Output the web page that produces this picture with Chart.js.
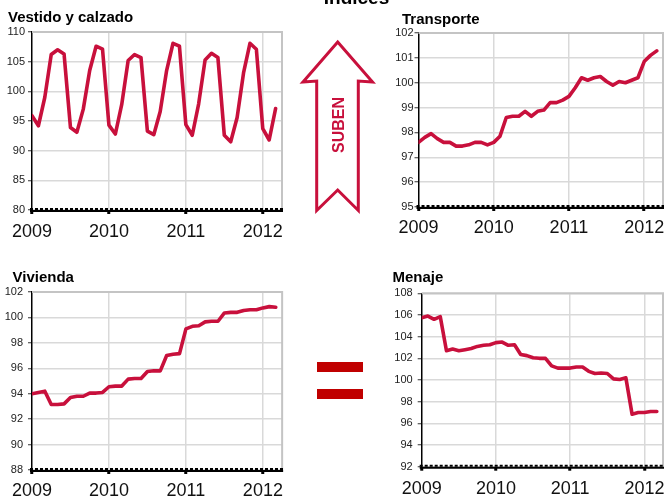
<!DOCTYPE html>
<html><head><meta charset="utf-8">
<script src="https://cdn.jsdelivr.net/npm/chart.js@4.4.1/dist/chart.umd.min.js"></script>
<style>
html,body{margin:0;padding:0;background:#fff;}
body{width:666px;height:502px;position:relative;overflow:hidden;font-family:"Liberation Sans",Arial,sans-serif;}
.p{position:absolute;}
.p canvas{display:block;}
svg{position:absolute;left:0;top:0;pointer-events:none;}
</style></head><body>
<div class="p" style="left:0;top:0"><canvas id="c1" width="290" height="245"></canvas></div>
<div class="p" style="left:392px;top:0"><canvas id="c2" width="284" height="245"></canvas></div>
<div class="p" style="left:0;top:250px"><canvas id="c3" width="290" height="252"></canvas></div>
<div class="p" style="left:384px;top:250px"><canvas id="c4" width="292" height="252"></canvas></div>
<svg width="666" height="502" font-family="Liberation Sans, Arial, sans-serif">
  <text x="356.5" y="3.5" text-anchor="middle" font-weight="bold" font-size="19" fill="#000">Índices</text>
  <text id="t1" x="8" y="22" font-weight="bold" font-size="15" fill="#000"></text>
  <text id="t2" x="402" y="23.5" font-weight="bold" font-size="15" fill="#000"></text>
  <text id="t3" x="12.5" y="282" font-weight="bold" font-size="15" fill="#000"></text>
  <text id="t4" x="392.5" y="282" font-weight="bold" font-size="15" fill="#000"></text>
  <polygon points="337.7,42 372.5,82 358.3,81 358.3,210.5 337.7,190 316.7,210.5 316.7,81 303,82" fill="#fff" stroke="#C8103C" stroke-width="3" stroke-linejoin="miter"/>
  <text transform="translate(343.5,125) rotate(-90)" text-anchor="middle" font-weight="bold" font-size="16" fill="#C8103C">SUBEN</text>
  <rect x="317" y="362" width="46" height="10" fill="#C00000"/>
  <rect x="317" y="389" width="46" height="10" fill="#C00000"/>
</svg>
<script>
const years = ['2009','2010','2011','2012'];
const titles = ['Vestido y calzado','Transporte','Vivienda','Menaje'];
const vestido = [95.9,94.2,99.0,106.2,107.0,106.3,93.9,93.1,97.0,103.5,107.6,107.1,
  94.3,92.8,97.8,105.2,106.2,105.7,93.3,92.7,96.6,103.5,108.1,107.6,
  94.4,92.6,97.9,105.3,106.4,105.7,92.6,91.5,95.6,103.1,108.1,107.1,
  93.7,91.8,97.1];
const transporte = [97.6,97.8,97.95,97.75,97.6,97.6,97.45,97.45,97.5,97.6,97.6,97.5,
  97.6,97.85,98.6,98.65,98.65,98.85,98.65,98.85,98.9,99.2,99.2,99.3,
  99.45,99.8,100.2,100.1,100.2,100.25,100.05,99.9,100.05,100.0,100.1,100.2,
  100.85,101.1,101.28];
const vivienda = [94.0,94.1,94.2,93.15,93.15,93.2,93.7,93.8,93.8,94.05,94.05,94.1,
  94.55,94.6,94.6,95.15,95.2,95.2,95.75,95.8,95.8,97.0,97.1,97.15,
  99.1,99.3,99.35,99.65,99.7,99.7,100.35,100.4,100.4,100.55,100.6,100.6,
  100.75,100.85,100.8];
const menaje = [105.75,105.9,105.6,105.85,102.7,102.85,102.7,102.8,102.9,103.1,103.2,103.25,
  103.45,103.5,103.2,103.25,102.35,102.25,102.05,102.0,102.0,101.3,101.1,101.1,
  101.1,101.2,101.2,100.8,100.6,100.65,100.6,100.1,100.05,100.2,96.85,97.0,
  97.0,97.1,97.1];

titles.forEach((t, i) => { document.getElementById('t' + (i + 1)).textContent = t; });

const RED = '#C8103C';
const FONT = '"Liberation Sans", Arial, sans-serif';

const framePlugin = {
  id: 'frame',
  afterDraw(chart) {
    const {ctx, chartArea: a} = chart;
    ctx.save();
    ctx.strokeStyle = '#C4C4C4'; ctx.lineWidth = 2;
    ctx.beginPath(); ctx.moveTo(a.left, a.top); ctx.lineTo(a.right, a.top); ctx.lineTo(a.right, a.bottom); ctx.stroke();
    ctx.strokeStyle = '#000'; ctx.lineWidth = 2;
    ctx.beginPath(); ctx.moveTo(a.left - 2, a.bottom + 1); ctx.lineTo(a.right + 1, a.bottom + 1); ctx.stroke();
    ctx.setLineDash([3, 2]);
    ctx.beginPath(); ctx.moveTo(a.left - 2, a.bottom - 1); ctx.lineTo(a.right + 1, a.bottom - 1); ctx.stroke();
    ctx.restore();
  }
};

function make(id, values, ymin, ymax, step, L) {
  new Chart(document.getElementById(id), {
    type: 'line',
    data: {datasets: [{data: values.map((v, i) => ({x: i, y: v})), borderColor: RED, borderWidth: 3.6,
      pointRadius: 0, tension: 0, borderJoinStyle: 'round', borderCapStyle: 'round', fill: false}]},
    options: {
      responsive: false, animation: false, devicePixelRatio: 1,
      layout: {padding: {left: 0, top: L.pt, right: L.pr, bottom: 0}},
      plugins: {legend: {display: false}, tooltip: {enabled: false}, title: {display: false}},
      scales: {
        x: {
          type: 'linear', min: 0, max: 39,
          afterBuildTicks: s => { s.ticks = [0, 12, 24, 36].map(v => ({value: v})); },
          afterFit: s => { s.height = L.xh; },
          ticks: {callback: v => years[Math.round(v / 12)], font: {family: FONT, size: 18}, color: '#111',
            padding: L.xp, maxRotation: 0, autoSkip: false},
          grid: {color: c => (c.tick && c.tick.value === 0) ? 'rgba(0,0,0,0)' : '#D9D9D9', lineWidth: 1.5,
            tickColor: '#000', tickWidth: 3, tickLength: 4},
          border: {display: false}
        },
        y: {
          min: ymin, max: ymax,
          afterFit: s => { s.width = L.yw; },
          ticks: {stepSize: step, font: {family: FONT, size: 11}, color: '#222', padding: L.yp},
          grid: {color: '#D9D9D9', lineWidth: 1.5, tickColor: '#333', tickLength: 4, tickWidth: 1},
          border: {color: '#000', width: 1.5}
        }
      }
    },
    plugins: [framePlugin]
  });
}

make('c1', vestido, 80, 110, 5, {pt: 32, pr: 4, yw: 32, xh: 35, xp: 6.9, yp: 3});
make('c2', transporte, 95, 102, 1, {pt: 33, pr: 13, yw: 25, xh: 38, xp: 6.5, yp: 1});
make('c3', vivienda, 88, 102, 2, {pt: 42, pr: 5, yw: 32, xh: 32, xp: 6.7, yp: 5});
make('c4', menaje, 92, 108, 2, {pt: 43.3, pr: 13, yw: 37.7, xh: 35.3, xp: 7.3, yp: 5});
</script>
</body></html>
